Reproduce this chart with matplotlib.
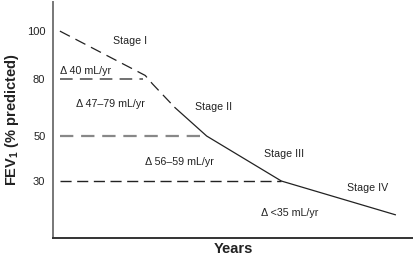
import numpy as np
import matplotlib
matplotlib.use("Agg")
import matplotlib.pyplot as plt

plt.rcParams['font.family'] = ['Liberation Sans', 'DejaVu Sans']
plt.rcParams['mathtext.fontset'] = 'custom'
plt.rcParams['mathtext.rm'] = 'Liberation Sans'
plt.rcParams['mathtext.bf'] = 'Liberation Sans:bold'

# schematic FEV1 decline (x = years, arbitrary units; y = % predicted)
dash_x = [0.11, 2.5, 2.7, 3.33]
dash_y = [100, 81.5, 77.5, 65]
solid_x = [3.33, 4.22, 6.31, 9.5]
solid_y = [65, 50, 30, 15]

# horizontal stage thresholds: level, end x
levels = [80, 50, 30]
level_ends = [2.45, 4.22, 6.31]

yticks = [100, 80, 50, 30]

# y axis in the figure is schematic (not evenly spaced)
knots_v = [0, 30, 50, 80, 100, 120]
knots_p = [-248.5, -181, -136, -79, -31, 17]


def fwd(v):
    return np.interp(v, knots_v, knots_p)


def inv(p):
    return np.interp(p, knots_p, knots_v)


fig = plt.figure(figsize=(4.14, 2.64), dpi=100)
ax = fig.add_axes([0.128, 0.0985, 0.87, 0.8935])
ax.set_yscale('function', functions=(fwd, inv))

ax.plot(dash_x, dash_y, color='#222222', lw=0.9, dashes=(9, 5))
ax.plot(solid_x, solid_y, color='#222222', lw=0.9)

ax.hlines(levels[0], 0.11, level_ends[0], color='#666666', lw=1.3, linestyles=(0, (7, 4)))
ax.hlines(levels[1], 0.11, level_ends[1], color='#888888', lw=1.6, linestyles=(0, (6, 3.5)))
ax.hlines(levels[2], 0.11, level_ends[2], color='#222222', lw=1.0, linestyles=(0, (8, 4)))

ax.set_xlim(-0.083, 10.0)
ax.set_ylim(inv(-238), inv(-2))

fs = 7.7
ax.text(2.08, 96.0, 'Stage I', fontsize=fs, ha='center', va='center', color='#222222')
ax.text(0.83, 83.5, 'Δ 40 mL/yr', fontsize=fs, ha='center', va='center', color='#222222')
ax.text(1.53, 67.0, 'Δ 47–79 mL/yr', fontsize=fs, ha='center', va='center', color='#222222')
ax.text(4.42, 65.5, 'Stage II', fontsize=fs, ha='center', va='center', color='#222222')
ax.text(3.47, 38.5, 'Δ 56–59 mL/yr', fontsize=fs, ha='center', va='center', color='#222222')
ax.text(6.39, 42.0, 'Stage III', fontsize=fs, ha='center', va='center', color='#222222')
ax.text(8.72, 27.0, 'Stage IV', fontsize=fs, ha='center', va='center', color='#222222')
ax.text(6.55, 16.0, 'Δ <35 mL/yr', fontsize=fs, ha='center', va='center', color='#222222')

ax.set_yticks(yticks)
ax.set_yticklabels([str(t) for t in yticks], fontsize=8, color='#222222')
ax.tick_params(axis='y', length=0, pad=5.5)
ax.set_xticks([])

ax.spines['top'].set_visible(False)
ax.spines['right'].set_visible(False)
ax.spines['left'].set_color('#777777')
ax.spines['left'].set_linewidth(1.4)
ax.spines['bottom'].set_color('#333333')
ax.spines['bottom'].set_linewidth(1.4)

ax.set_xlabel('Years', fontsize=10.5, fontweight='bold', color='#222222', labelpad=3)
ax.set_ylabel(r'FEV$_{\mathbf{1}}$ (% predicted)', fontsize=10.5, fontweight='bold', color='#222222',
              va='center')
ax.yaxis.set_label_coords(-0.114, 0.5)

fig.savefig('out.png', dpi=100)
